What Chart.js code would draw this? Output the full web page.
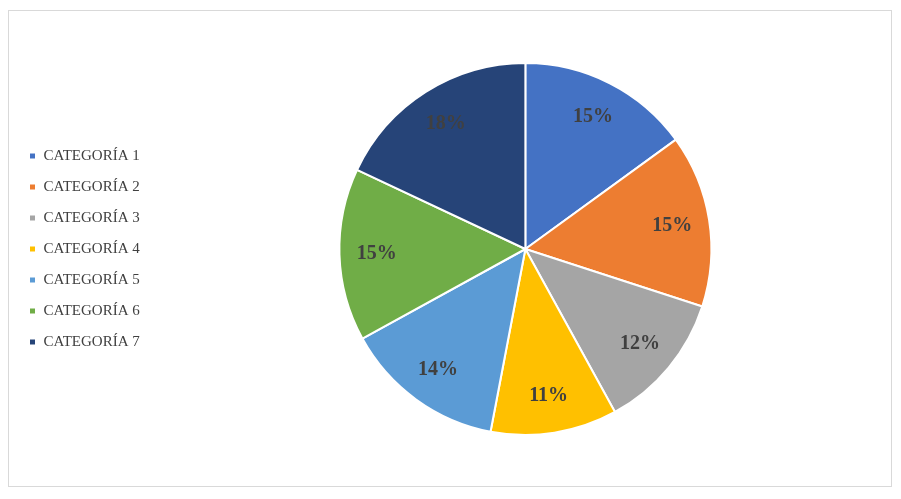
<!DOCTYPE html>
<html><head><meta charset="utf-8">
<script src="https://cdn.jsdelivr.net/npm/chart.js@4"></script>
<style>
html,body{margin:0;padding:0;background:#fff;}
#wrap{position:absolute;left:0;top:0;width:901px;height:499px;}
#frame{position:absolute;left:8px;top:10px;width:884px;height:477px;border:1px solid #d9d9d9;box-sizing:border-box;pointer-events:none;}
</style></head>
<body>
<div id="wrap"><canvas id="c" width="901" height="499"></canvas></div>
<div id="frame"></div>
<script>
const categories = ["CATEGORÍA 1","CATEGORÍA 2","CATEGORÍA 3","CATEGORÍA 4","CATEGORÍA 5","CATEGORÍA 6","CATEGORÍA 7"];
const values = [15,15,12,11,14,15,18];
const colors = ["#4472c4","#ed7d31","#a5a5a5","#ffc000","#5b9bd5","#70ad47","#264478"];

const labelPlugin = {
  id:'pctLabels',
  afterDatasetsDraw(chart){
    const ctx = chart.ctx;
    const meta = chart.getDatasetMeta(0);
    const total = values.reduce((a,b)=>a+b,0);
    ctx.save();
    ctx.font = 'bold 20px "Liberation Serif", "DejaVu Serif", serif';
    ctx.fillStyle = '#404040';
    ctx.textAlign='center'; ctx.textBaseline='middle';
    meta.data.forEach((arc,i)=>{
      const p = arc.getProps(['x','y','startAngle','endAngle','outerRadius'],true);
      const a = (p.startAngle+p.endAngle)/2;
      const r = p.outerRadius*0.8;
      ctx.fillText(Math.round(values[i]/total*100)+'%', p.x+Math.cos(a)*r, p.y+Math.sin(a)*r);
    });
    ctx.restore();
  }
};

new Chart(document.getElementById('c'),{
  type:'pie',
  data:{labels:categories,datasets:[{data:values,backgroundColor:colors,borderColor:'#ffffff',borderWidth:2}]},
  options:{
    responsive:false,animation:false,
    layout:{padding:{top:62,bottom:63,right:0,left:13}},
    plugins:{
      tooltip:{enabled:false},
      legend:{position:'left',
        labels:{boxWidth:7,boxHeight:7,padding:16,color:'#404040',
          font:{family:'"Liberation Serif", "DejaVu Serif", serif',size:15}}}
    }
  },
  plugins:[labelPlugin]
});
</script>
</body></html>
